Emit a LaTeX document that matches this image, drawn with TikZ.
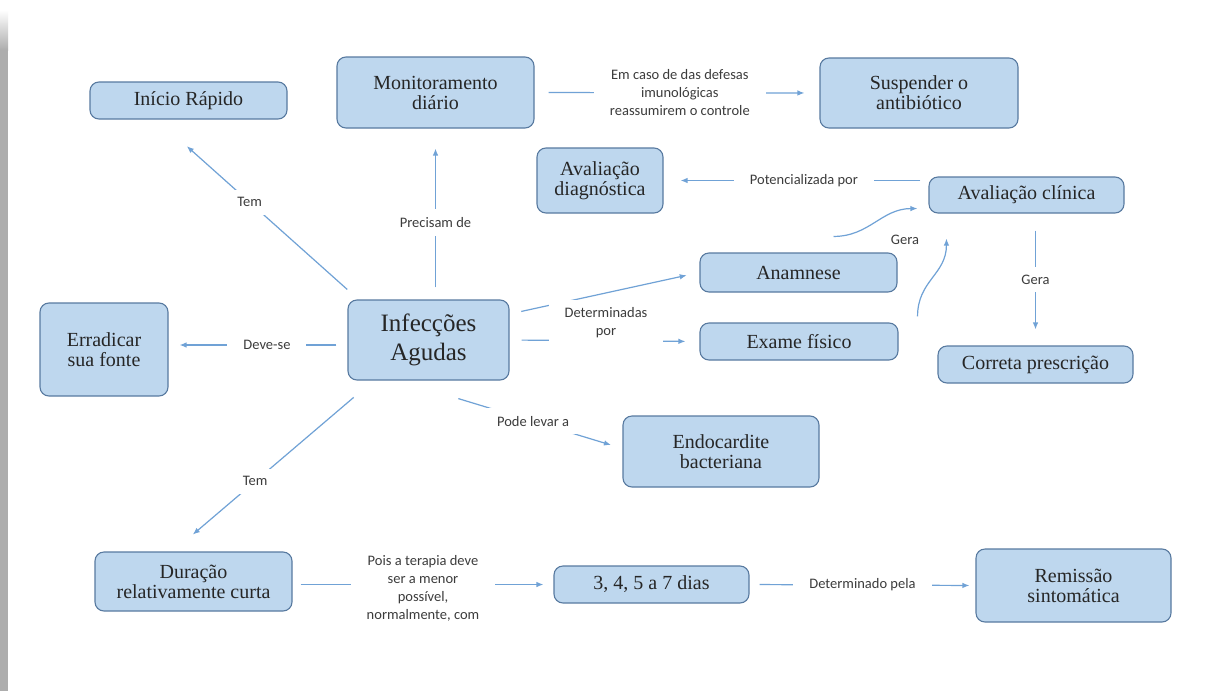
\documentclass[tikz,border=0pt]{standalone}
\usepackage{fontspec}
\setmainfont{Liberation Serif}
\newfontfamily\lblfont{Carlito}
\usetikzlibrary{arrows.meta}

\definecolor{boxfill}{RGB}{190,215,238}
\definecolor{boxline}{RGB}{88,122,160}
\definecolor{lineblue}{RGB}{112,162,214}
\definecolor{lblgray}{RGB}{60,60,60}

\tikzset{
  box/.style={draw=boxline, line width=1.1pt, fill=boxfill, rounded corners=9pt,
    align=center, inner sep=0pt, text=black!85, font=\fontsize{20}{20}\selectfont},
  lbl/.style={fill=white, inner xsep=16pt, inner ysep=8pt, align=center,
    text=lblgray, font=\lblfont\fontsize{14.5}{18}\selectfont},
  conn/.style={draw=lineblue, line width=1.2pt, -{Latex[length=7pt,width=5.5pt]}}
}

\begin{document}
\begin{tikzpicture}[x=1pt,y=-1pt]
  \useasboundingbox (0,0) rectangle (1221,691);
  \fill[white] (0,0) rectangle (1221,691);
  % page shadow on the left
  \fill[black!32] (0,50) rectangle (8,691);
  \shade[top color=white, bottom color=black!32] (0,10) rectangle (8,50);

  % Concepts
  \node[box, minimum width=161pt, minimum height=80pt, font=\fontsize{25}{29}\selectfont] (inf) at (428.5,340) {Infecções\\Agudas};
  \node[box, minimum width=197pt, minimum height=37pt] (ini) at (188.5,100.5) {Início Rápido};
  \node[box, minimum width=197pt, minimum height=71pt] (mon) at (435.5,92.5) {Monitoramento\\diário};
  \node[box, minimum width=198pt, minimum height=70pt] (sus) at (919,93) {Suspender o\\antibiótico};
  \node[box, minimum width=126pt, minimum height=65pt] (adiag) at (600,180.5) {Avaliação\\diagnóstica};
  \node[box, minimum width=195pt, minimum height=36pt] (aclin) at (1026.5,195) {Avaliação clínica};
  \node[box, minimum width=197pt, minimum height=39pt] (anam) at (798.5,272.5) {Anamnese};
  \node[box, minimum width=198pt, minimum height=37pt] (exame) at (799,341.5) {Exame físico};
  \node[box, minimum width=195pt, minimum height=37pt] (correta) at (1035.5,364.5) {Correta prescrição};
  \node[box, minimum width=128pt, minimum height=93pt] (err) at (104,349.5) {Erradicar\\sua fonte};
  \node[box, minimum width=196pt, minimum height=71pt] (endo) at (721,451.5) {Endocardite\\bacteriana};
  \node[box, minimum width=197pt, minimum height=59pt] (dur) at (193.5,581.5) {Duração\\relativamente curta};
  \node[box, minimum width=195pt, minimum height=37pt] (dias) at (651.5,584.5) {3, 4, 5 a 7 dias};
  \node[box, minimum width=195pt, minimum height=73pt] (rem) at (1073.5,585.5) {Remissão\\sintomática};

  % Links from the centre
  \draw[conn, shorten <=15pt, shorten >=40pt] ([xshift=11pt]inf.north west) -- node[lbl, pos=0.54] {Tem} ([xshift=-31.5pt]ini.south);
  \draw[conn, shorten <=12pt, shorten >=20pt] (inf.north -| mon.south) -- node[lbl, pos=0.45] {Precisam de} (mon.south);
  \draw[conn, shorten <=11pt, shorten >=11pt] ([yshift=-5pt]inf.west) -- node[lbl, pos=0.45] {Deve-se} ([yshift=4.5pt]err.east);
  \draw[conn, shorten <=12pt, shorten >=13pt] ([yshift=26pt]inf.east) -- (anam.west);
  \draw[conn, shorten <=12pt, shorten >=14pt] (inf.east) -- (exame.west);
  \node[lbl] (lblDet) at (606,323) {Determinadas\\por};
  \draw[conn, shorten <=62pt, shorten >=12pt] ([xshift=-29.5pt]inf.south) -- node[lbl, pos=0.6] {Pode levar a} ([yshift=3pt]endo.west);
  \draw[conn, shorten <=26pt, shorten >=26pt] ([xshift=26pt]inf.south west) -- node[lbl, pos=0.59] {Tem} ([xshift=-20.5pt]dur.north);

  % Other links
  \draw[conn, shorten <=14pt, shorten >=15pt] (mon.east) -- node[lbl, pos=0.51] {Em caso de das defesas\\imunológicas\\reassumirem o controle} (sus.west);
  \draw[conn, shorten <=8pt, shorten >=17pt] (aclin.west |- adiag.east) -- node[lbl, pos=0.47] {Potencializada por} (adiag.east);
  \draw[conn] ([xshift=35pt,yshift=16pt]anam.north) .. controls +(36,0) and +(-36,0) .. ([xshift=-11pt,yshift=5pt]aclin.south west);
  \draw[conn] ([xshift=19pt,yshift=6pt]exame.north east) .. controls +(0,-36) and +(0,36) .. ([xshift=18pt,yshift=-25pt]aclin.south west);
  \node[lbl, inner sep=2pt] (lblGera) at (905,240) {Gera};
  \draw[conn, shorten <=17pt, shorten >=16pt] (aclin.south -| correta.north) -- node[lbl] {Gera} (correta.north);
  \draw[conn, shorten <=8pt, shorten >=10pt] (dur.east |- dias.west) -- node[lbl, yshift=-4pt] {Pois a terapia deve\\ser a menor\\possível,\\normalmente, com} (dias.west);
  \draw[conn, shorten <=10pt, shorten >=6pt] (dias.east) -- node[lbl] {Determinado pela} (rem.west);
\end{tikzpicture}
\end{document}
